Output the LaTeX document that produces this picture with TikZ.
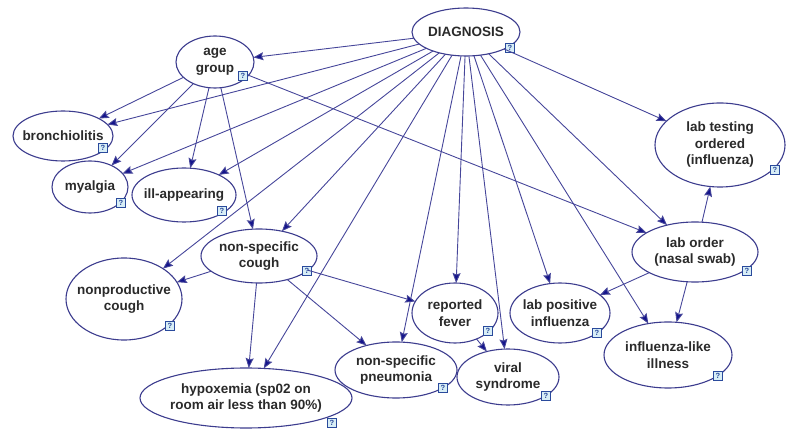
\documentclass[tikz,border=0pt]{standalone}
\usepackage{fontspec}
\setmainfont{Liberation Sans}
\usetikzlibrary{shapes.geometric,arrows.meta}

\definecolor{rim}{HTML}{3C3C8E}
\definecolor{wire}{HTML}{46469A}
\definecolor{tip}{HTML}{14148C}
\definecolor{ink}{HTML}{2A2A2A}
\definecolor{qfill}{HTML}{D8EEF6}
\definecolor{qrim}{HTML}{2A4A9C}

\tikzset{
  var/.style={ellipse, draw=rim, line width=1.1pt, fill=white, inner sep=0pt, outer sep=0pt},
  lbl/.style={align=center, font=\fontsize{13.5}{16.5}\selectfont\bfseries, text=ink, inner sep=0pt},
  qicon/.style={draw=qrim, fill=qfill, line width=0.6pt, minimum size=9pt, inner sep=0pt,
                font=\fontsize{7.5}{8}\selectfont\bfseries, text=qrim},
  edge/.style={draw=wire, line width=0.9pt,
               -{Stealth[length=10pt,width=8pt,inset=1.5pt,fill=tip]}}
}

% #1 name, #2/#3 centre, #4/#5 width/height, #6/#7 help icon position, #8 text
\newcommand\bnode[8]{%
  \node[var, minimum width=#4pt, minimum height=#5pt] (#1) at (#2,#3) {};
  \node[lbl] (#1-t) at (#1) {#8};
  \node[qicon] (#1-q) at (#6,#7) {?};
}

\begin{document}
\begin{tikzpicture}[x=1pt,y=-1pt]
\useasboundingbox (0,0) rectangle (787,435);

\bnode{diag}{466}{32}{108}{48}{510}{48}{DIAGNOSIS}
\bnode{age}{215}{62}{78}{52}{243}{76}{age\\group}
\bnode{bron}{63}{136}{100}{50}{103}{148}{bronchiolitis}
\bnode{myal}{90}{187}{76}{52}{121}{203}{myalgia}
\bnode{ill}{184}{195}{104}{54}{222}{211}{ill-appearing}
\bnode{nsc}{259}{256}{116}{54}{307}{271}{non-specific\\cough}
\bnode{nprod}{124}{299}{116}{82}{170}{326}{nonproductive\\cough}
\bnode{hypo}{246}{398}{212}{60}{332}{423}{hypoxemia (sp02 on\\room air less than 90\%)}
\bnode{pneu}{396}{370}{122}{56}{443}{388}{non-specific\\pneumonia}
\bnode{fever}{455}{313}{86}{60}{488}{331}{reported\\fever}
\bnode{viral}{508}{377}{102}{56}{546}{396}{viral\\syndrome}
\bnode{labpos}{560}{313}{100}{60}{597}{333}{lab positive\\influenza}
\bnode{ili}{668}{355}{128}{66}{718}{376}{influenza-like\\illness}
\bnode{laborder}{695}{252}{126}{60}{747}{271}{lab order\\(nasal swab)}
\bnode{labtest}{720}{145}{130}{84}{775}{170}{lab testing\\ordered\\(influenza)}

% links from the diagnosis
\foreach \t in {age,bron,myal,ill,nsc,nprod,hypo,pneu,fever,viral,labpos,ili,laborder,labtest}
  \draw[edge] (diag) -- (\t);
% links from the age group
\foreach \t in {bron,myal,ill,nsc,laborder}
  \draw[edge] (age) -- (\t);
% links from the cough
\foreach \t in {nprod,hypo,pneu,fever}
  \draw[edge] (nsc) -- (\t);
\draw[edge] (fever) -- (viral);
% links from the lab order
\foreach \t in {labtest,labpos,ili}
  \draw[edge] (laborder) -- (\t);
\end{tikzpicture}
\end{document}
